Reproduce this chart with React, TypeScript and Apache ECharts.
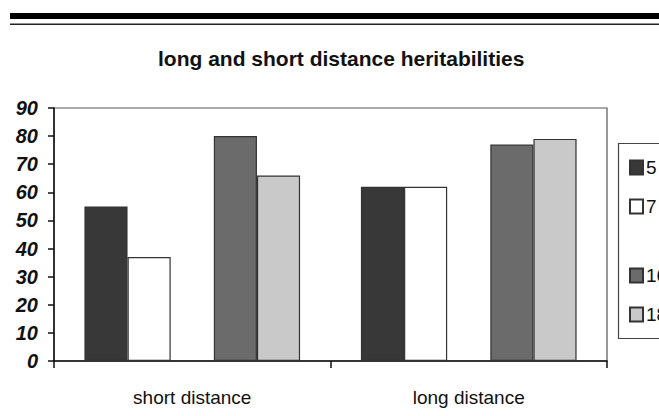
import React, { useEffect, useRef } from "react";
import * as echarts from "echarts";

const categories = ["short distance", "long distance"];
const seriesNames = ["5", "7", "", "16", "18"];
const values5 = [55, 62];
const values7 = [37, 62];
const valuesBlank: (number | null)[] = [null, null];
const values16 = [80, 77];
const values18 = [66, 79];
const yTicks = [0, 10, 20, 30, 40, 50, 60, 70, 80, 90];

const FONT = "'Liberation Sans', Arial, Helvetica, sans-serif";

export default function App() {
  const ref = useRef<HTMLDivElement>(null);
  useEffect(() => {
    if (!ref.current) return;
    const chart = echarts.init(ref.current, null, { renderer: "svg" });
    const colors = ["#383838", "#ffffff", "#ffffff", "#6b6b6b", "#c9c9c9"];
    const data = [values5, values7, valuesBlank, values16, values18];
    const legendText = { fontFamily: FONT, fontSize: 19, color: "#111", lineHeight: 14, padding: [0, 0, 0, -2] };
    chart.setOption({
      animation: false,
      backgroundColor: "#ffffff",
      title: {
        text: "long and short distance heritabilities",
        left: 153,
        top: 43,
        textStyle: { fontFamily: FONT, fontSize: 21, fontWeight: "bold", color: "#111" },
      },
      graphic: [
        { type: "rect", shape: { x: 10, y: 13, width: 660, height: 6 }, style: { fill: "#000" } },
        { type: "rect", shape: { x: 10, y: 23.5, width: 660, height: 1.5 }, style: { fill: "#222" } },
        {
          type: "rect",
          shape: { x: 618.5, y: 143.5, width: 60, height: 195 },
          style: { fill: "none", stroke: "#444", lineWidth: 1.2 },
        },
      ],
      legend: [
        {
          data: [seriesNames[0], seriesNames[1]],
          orient: "vertical",
          left: 624,
          top: 153,
          icon: "rect",
          itemWidth: 13,
          itemHeight: 14,
          itemGap: 20,
          textStyle: legendText,
        },
        {
          data: [seriesNames[3], seriesNames[4]],
          orient: "vertical",
          left: 624,
          top: 261,
          icon: "rect",
          itemWidth: 13,
          itemHeight: 14,
          itemGap: 20,
          textStyle: legendText,
        },
      ],
      grid: {
        left: 54,
        right: 52,
        top: 108,
        bottom: 55,
        show: true,
        borderColor: "#555",
        borderWidth: 1.2,
        backgroundColor: "transparent",
      },
      xAxis: {
        type: "category",
        data: categories,
        axisLine: { lineStyle: { color: "#111", width: 1.5 } },
        axisTick: { show: true, length: 7, lineStyle: { color: "#111", width: 1.5 } },
        axisLabel: { fontFamily: FONT, fontSize: 19, color: "#111", margin: 27 },
      },
      yAxis: {
        type: "value",
        min: yTicks[0],
        max: yTicks[yTicks.length - 1],
        interval: 10,
        splitLine: { show: false },
        axisLine: { show: true, lineStyle: { color: "#111", width: 1.5 } },
        axisTick: { show: true, length: 6, lineStyle: { color: "#111", width: 1.5 } },
        axisLabel: {
          fontFamily: FONT,
          fontSize: 20,
          fontWeight: "bold",
          fontStyle: "italic",
          color: "#111",
          margin: 16,
        },
      },
      series: seriesNames.map((name, i) => ({
        name: name === "" ? "blank" : name,
        type: "bar",
        data: data[i],
        barGap: "0%",
        barCategoryGap: "22%",
        itemStyle: { color: colors[i], borderColor: "#333", borderWidth: 1.2 },
      })),
    });
    return () => chart.dispose();
  }, []);
  return (
    <div
      ref={ref}
      style={{ position: "absolute", left: 0, top: 0, width: 659, height: 416 }}
    />
  );
}
